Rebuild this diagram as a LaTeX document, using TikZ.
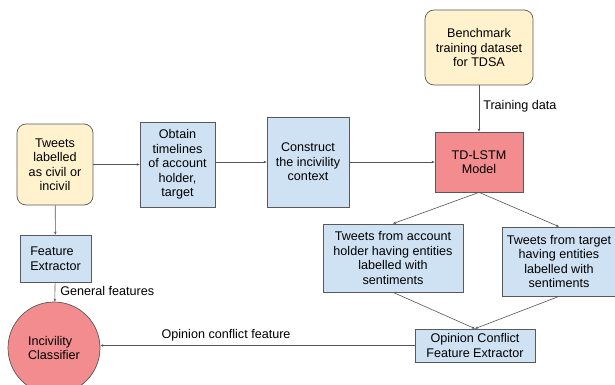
\documentclass[tikz,border=0pt]{standalone}
\usepackage{fontspec}
\setmainfont{Liberation Sans}
\usetikzlibrary{arrows.meta}
\definecolor{yel}{HTML}{FFF2CC}
\definecolor{blu}{HTML}{CFE2F3}
\definecolor{redf}{HTML}{F28C8F}
\definecolor{bord}{HTML}{595959}
\definecolor{lin}{HTML}{555555}
\tikzset{
  base/.style={draw=bord, line width=0.7pt, inner sep=0pt, font=\fontsize{12.6}{14.5}\selectfont, align=center},
  yelbox/.style={base, fill=yel, rounded corners=9pt},
  blubox/.style={base, fill=blu},
  redbox/.style={base, fill=redf},
  conn/.style={draw=lin, line width=0.6pt, -{Stealth[length=3pt,width=2.5pt]}},
  lbl/.style={font=\fontsize{12.6}{14}\selectfont, inner sep=0pt}
}
\begin{document}
\begin{tikzpicture}[x=1pt,y=-1pt]
\useasboundingbox (0,0) rectangle (615,385);
\node[yelbox, minimum width=76pt, minimum height=81pt] (tw) at (55,164.5) {Tweets\\labelled\\as civil or\\incivil};
\node[blubox, minimum width=75pt, minimum height=85pt] (ob) at (177.5,164.5) {Obtain\\timelines\\of account\\holder,\\target};
\node[blubox, minimum width=82pt, minimum height=90pt] (co) at (308,162) {Construct\\the incivility\\context};
\node[redbox, minimum width=88pt, minimum height=60pt] (td) at (479,162) {TD-LSTM\\Model};
\node[yelbox, minimum width=108pt, minimum height=75pt] (bm) at (479,47.5) {Benchmark\\training dataset\\for TDSA};
\node[blubox, minimum width=71pt, minimum height=47pt, align=left] (fe) at (55.5,258.5) {Feature\\Extractor};
\node[redbox, circle, minimum size=92pt, align=left] (ic) at (54,348) {Incivility\\Classifier};
\node[blubox, minimum width=140pt, minimum height=68pt] (ta) at (393,258) {Tweets from account\\holder having entities\\labelled with\\sentiments};
\node[blubox, minimum width=114pt, minimum height=69pt] (tt) at (559,261.5) {Tweets from target\\having entities\\labelled with\\sentiments};
\node[blubox, minimum width=120pt, minimum height=33pt] (oc) at (475,345.5) {Opinion Conflict\\Feature Extractor};

\draw[conn] (tw) -- (ob);
\draw[conn] (ob.east |- co.west) -- (co.west);
\draw[conn] (co) -- (td);
\draw[conn] (bm) -- node[lbl, right=4pt, pos=0.45] {Training data} (td);
\draw[conn] (td.south) -- (ta.north);
\draw[conn] (td.south) -- (tt.north);
\draw[conn] (ta.south) -- (oc.north);
\draw[conn] (tt.south) -- (oc.north);
\draw[conn] (tw) -- (fe);
\draw[conn] (fe) -- node[lbl, right=5pt, pos=0.45] {General features} (ic);
\draw[conn] (oc.west) -- node[lbl, above=4pt, pos=0.6] {Opinion conflict feature} (oc.west -| ic.east);
\end{tikzpicture}
\end{document}
